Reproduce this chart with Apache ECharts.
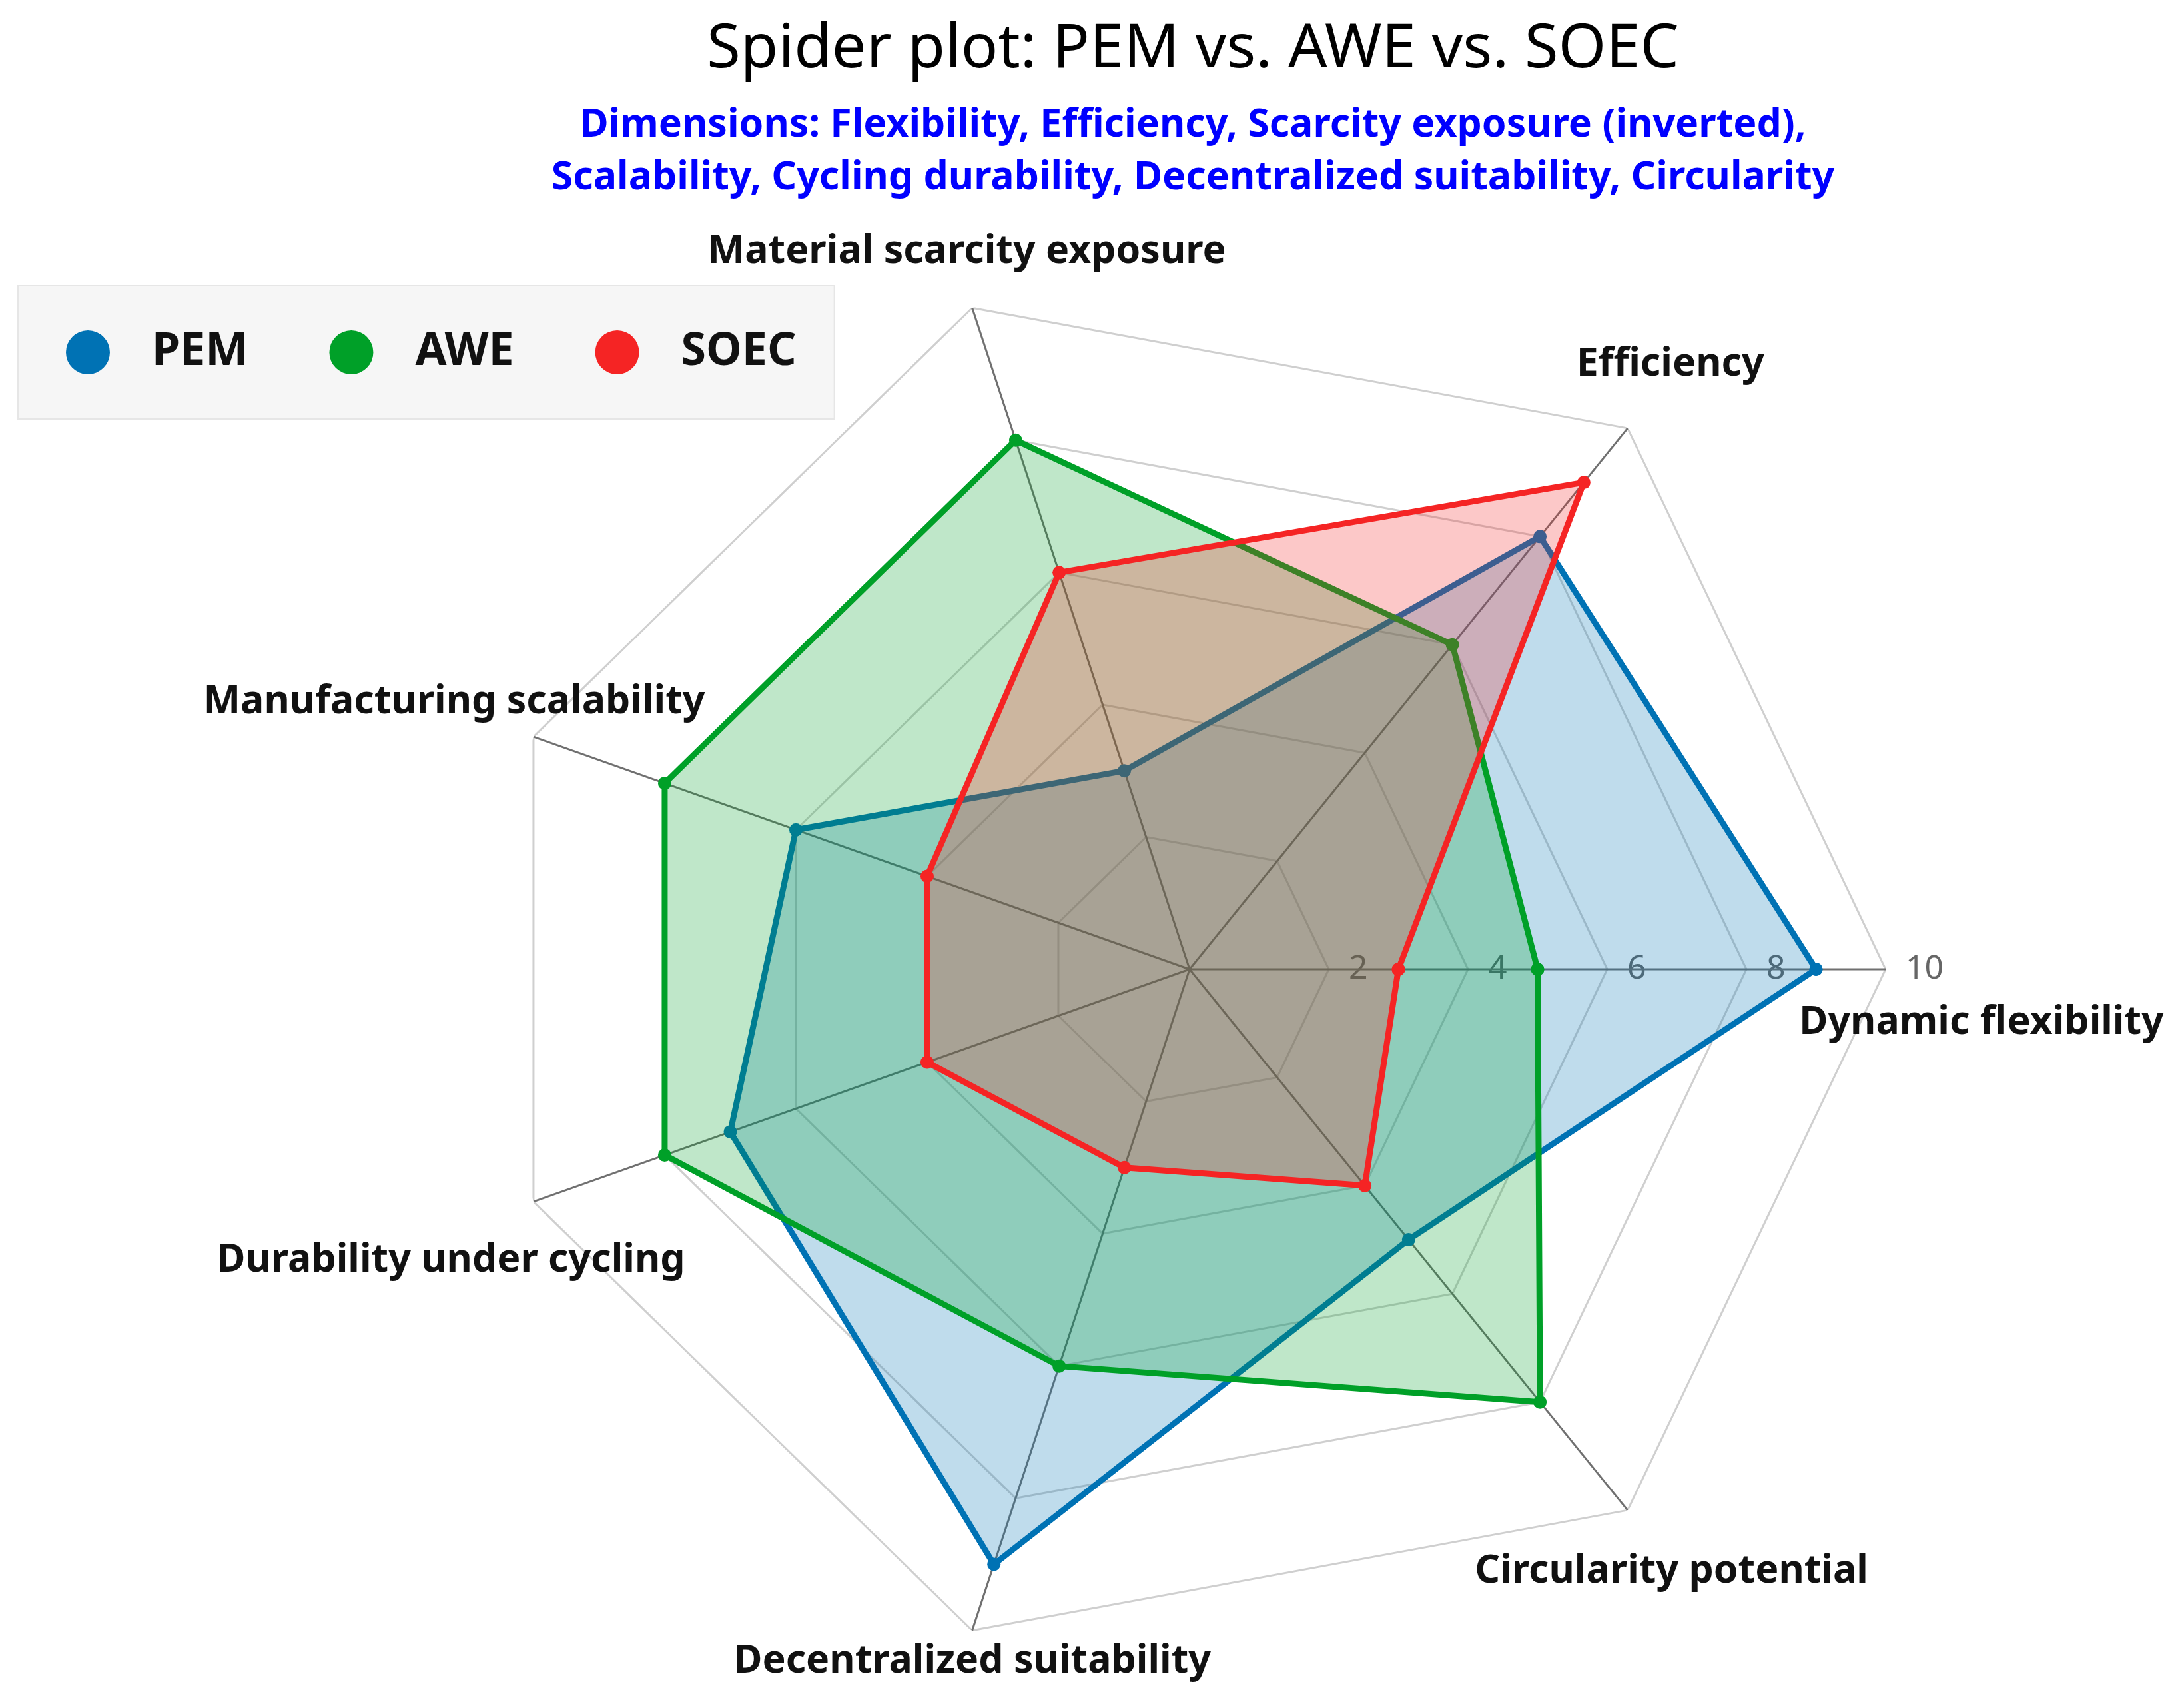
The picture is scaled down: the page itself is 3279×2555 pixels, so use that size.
<!DOCTYPE html>
<html lang="en">
<head>
    <meta charset="UTF-8">
    <title>Spider plot: PEM vs. AWE vs. SOEC</title>
    <script src="https://cdn.jsdelivr.net/npm/echarts/dist/echarts.min.js"></script>
    <style type="text/css">
        html, body { margin: 0; padding: 0; background: #ffffff; }
        #chart { width: 3279px; height: 2555px; }
    </style>
</head>
<body>
<div id="chart"></div>
<script>
    // spider axes, counter-clockwise starting from the right
    var categories = ['Dynamic flexibility', 'Efficiency', 'Material scarcity exposure',
        'Manufacturing scalability', 'Durability under cycling', 'Decentralized suitability',
        'Circularity potential'];
    // direction of each axis in degrees
    var axisAngles = [0, 51, 108.2, 160.5, 199.5, 251.8, 309];
    var ringValues = [2, 4, 6, 8, 10];
    var tickLabels = ['2', '4', '6', '8', '10'];

    var seriesNames = ['PEM', 'AWE', 'SOEC'];
    var pemValues = [9, 8, 3, 6, 7, 9, 5];
    var aweValues = [5, 6, 8, 8, 8, 6, 8];
    var soecValues = [3, 9, 6, 4, 4, 3, 4];

    var FONT = '"Noto Sans", "Open Sans", sans-serif';
    var lineColors = ['#0072B4', '#00A028', '#F52424'];
    var fillColors = ['rgba(0,114,180,0.25)', 'rgba(0,160,40,0.25)', 'rgba(245,36,36,0.25)'];
    // where each axis name sits relative to the end of its axis (px)
    var nameOffsets = [[144, 80], [64, -96], [-8, -84], [-119, -52], [-124, 88], [0, 46], [66, 92]];

    // polygon through all axes, closed
    function closedPoly(vals) {
        var pts = vals.map(function (v, i) { return [v, axisAngles[i]]; });
        pts.push(pts[0].slice());
        return pts;
    }

    var series = [];

    // grid rings (under everything)
    ringValues.forEach(function (r) {
        series.push({
            type: 'line', coordinateSystem: 'polar', silent: true, clip: false, z: 1,
            symbol: 'none',
            lineStyle: {color: '#cfcfcf', width: 3},
            data: closedPoly(axisAngles.map(function () { return r; }))
        });
    });
    // spokes
    axisAngles.forEach(function (a) {
        series.push({
            type: 'line', coordinateSystem: 'polar', silent: true, clip: false, z: 1,
            symbol: 'none',
            lineStyle: {color: '#707070', width: 3},
            data: [[0, a], [ringValues[ringValues.length - 1], a]]
        });
    });

    // the three electrolysers, each one painted over the previous one
    [pemValues, aweValues, soecValues].forEach(function (vals, k) {
        series.push({
            name: seriesNames[k],
            type: 'line', coordinateSystem: 'polar', clip: false, z: 2 + k,
            symbol: 'circle', symbolSize: 20,
            itemStyle: {color: lineColors[k]},
            lineStyle: {color: lineColors[k], width: 9},
            areaStyle: {color: fillColors[k], opacity: 1},
            data: closedPoly(vals)
        });
    });

    // axis names at the outer ends
    series.push({
        type: 'scatter', coordinateSystem: 'polar', silent: true, z: 10,
        symbolSize: 2, itemStyle: {color: 'rgba(0,0,0,0)'},
        label: {
            show: true, position: 'inside', formatter: '{b}',
            fontFamily: FONT, fontSize: 59, fontWeight: 'bold', color: '#111111',
            textBorderWidth: 0, textBorderColor: 'transparent', opacity: 1
        },
        data: categories.map(function (c, i) {
            return {name: c, value: [10, axisAngles[i]], label: {offset: nameOffsets[i]}};
        })
    });

    var chart = echarts.init(document.getElementById('chart'));
    chart.setOption({
        animation: false,
        backgroundColor: '#ffffff',
        title: {
            text: 'Spider plot: PEM vs. AWE vs. SOEC',
            subtext: 'Dimensions: Flexibility, Efficiency, Scarcity exposure (inverted),\nScalability, Cycling durability, Decentralized suitability, Circularity',
            left: 1786, top: 20, textAlign: 'center', itemGap: 24,
            textStyle: {fontFamily: FONT, fontSize: 92, fontWeight: 'normal', color: '#000000', lineHeight: 100},
            subtextStyle: {fontFamily: FONT, fontSize: 59, fontWeight: 'bold', color: '#0000FF', lineHeight: 79, align: 'center'}
        },
        legend: {
            data: seriesNames,
            orient: 'horizontal',
            left: 27, top: 429,
            padding: [66, 57, 66, 72],
            backgroundColor: '#f6f6f6',
            borderColor: '#e6e6e6', borderWidth: 2,
            icon: 'circle', itemWidth: 66, itemHeight: 66, itemGap: 122,
            textStyle: {fontFamily: FONT, fontSize: 68, fontWeight: 'bold', color: '#111111', padding: [0, 0, 0, 58]}
        },
        polar: {center: [1786, 1455], radius: 1045},
        angleAxis: {
            type: 'value', min: 0, max: 360, startAngle: 0, clockwise: false,
            axisLine: {show: false}, axisTick: {show: false},
            axisLabel: {show: false}, splitLine: {show: false}
        },
        radiusAxis: {
            type: 'value', min: 0, max: 10, interval: 2,
            axisLine: {show: false}, axisTick: {show: false}, splitLine: {show: false},
            axisLabel: {
                show: true, margin: 0, align: 'left', verticalAlign: 'middle',
                padding: [10, 0, 0, 30],
                fontFamily: FONT, fontSize: 50, color: '#666666',
                formatter: function (v) {
                    var i = ringValues.indexOf(v);
                    return i < 0 ? '' : tickLabels[i];
                }
            }
        },
        series: series
    });
</script>
</body>
</html>
